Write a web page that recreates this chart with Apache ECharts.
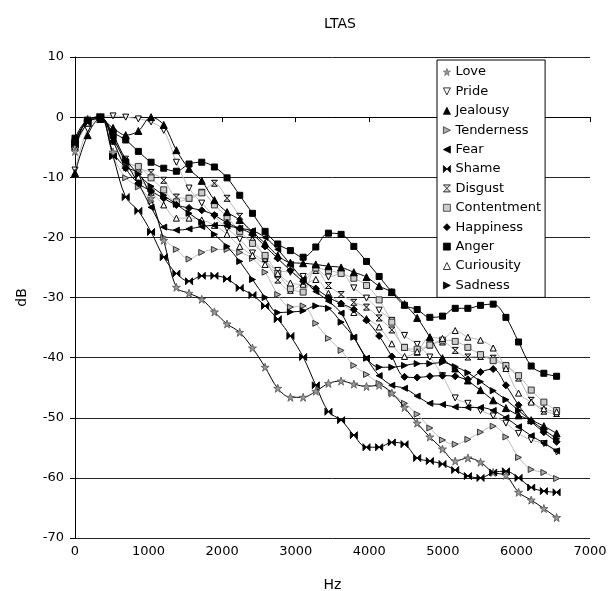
<!DOCTYPE html>
<html><head><meta charset="utf-8">
<script src="https://cdn.jsdelivr.net/npm/echarts@6/dist/echarts.min.js"></script>
<style>html,body{margin:0;padding:0;background:#fff}#c{width:616px;height:591px}</style>
</head><body><div id="c"></div>
<script>
const freqs = [0,172,345,517,689,861,1034,1206,1378,1550,1723,1895,2067,2239,2412,2584,2756,2928,3101,3273,3445,3617,3790,3962,4134,4306,4479,4651,4823,4995,5168,5340,5512,5684,5857,6029,6201,6373,6546];
const names = ['Love','Pride','Jealousy','Tenderness','Fear','Shame','Disgust','Contentment','Happiness','Anger','Curiousity','Sadness'];
const love = [-5.7,-0.3,0,-5.8,-8.3,-9.3,-13.5,-20.5,-28.3,-29.3,-30.3,-32.4,-34.4,-35.8,-38.4,-41.6,-45.1,-46.6,-46.6,-45.6,-44.3,-43.9,-44.4,-44.8,-44.6,-45.9,-48.3,-50.9,-53.2,-55.2,-57.2,-56.7,-57.4,-59.1,-59.6,-62.4,-63.7,-65.1,-66.6];
const pride = [-8.8,-2,0,0.2,0,-0.3,-0.8,-2.2,-7.5,-11.8,-14.3,-16.5,-18.5,-20.3,-22.6,-24,-25.5,-25.8,-26.5,-25.3,-26.6,-26,-28.4,-30.1,-32.1,-33.8,-36.3,-37.8,-39.9,-43,-46.7,-47.6,-48.8,-49.7,-50.9,-52.6,-53.7,-54.3,-55.7];
const jealousy = [-9.3,-3,-0.3,-1.8,-3,-2.3,0,-1.3,-5.5,-8.6,-10.6,-13.8,-15.8,-17.1,-19.1,-21,-23,-24.2,-24.3,-24.5,-24.8,-25,-25.8,-26.6,-28.1,-29.1,-31.1,-33.4,-36.6,-40.1,-41.8,-43.8,-45.4,-47.1,-48.4,-49.6,-50.4,-51.4,-52.6];
const tenderness = [-5,-1,0,-6.5,-10.1,-11.6,-14,-20,-22,-23.6,-22.5,-22,-22,-22.5,-23.5,-25.8,-29.5,-31.6,-31.4,-34.3,-36.8,-38.8,-41.3,-42.8,-44.3,-45.9,-47.6,-49.4,-51.7,-53.7,-54.4,-53.6,-52.4,-51.4,-53.2,-56.6,-58.6,-59.1,-60.1];
const fear = [-4,-0.5,0,-3.5,-7.5,-11,-15,-18.3,-18.8,-18.6,-18.2,-18,-18.1,-18.5,-18.9,-20,-22,-24.5,-27,-29,-30.6,-32.6,-36.6,-40.1,-43,-44.6,-45.1,-46.4,-47.6,-47.8,-48.2,-48.3,-48.3,-48.8,-50,-51.5,-53,-54.2,-55.5];
const shame = [-4.5,-1,0,-6.5,-13.3,-15.6,-19.1,-23.3,-26,-27.3,-26.4,-26.4,-26.9,-28.4,-29.6,-31.4,-33.6,-36.4,-39.9,-44.6,-49,-50.4,-52.9,-54.9,-54.9,-54.1,-54.4,-56.7,-57.2,-57.7,-58.7,-59.7,-60,-59.1,-58.9,-60,-61.6,-62.2,-62.4];
const disgust = [-5,-1,0,-3,-7,-8.5,-9.2,-10.5,-13.3,-13.5,-12.5,-11,-13.5,-16.5,-20,-23.5,-27.1,-28.8,-27.5,-25.5,-28,-29.5,-30.8,-31.6,-33.4,-35.4,-38.3,-39.1,-37.9,-37.4,-38.8,-39.9,-39.8,-40.1,-41.4,-43.4,-47.1,-48.9,-49.3];
const contentment = [-5,-1,0,-3,-7.5,-8.2,-10.1,-12.1,-14.1,-13.5,-12.6,-14.6,-16.6,-19,-21,-23,-26,-28.5,-29.1,-25.1,-25.5,-26,-26.8,-28,-30.4,-34.1,-38.3,-38.6,-37.9,-37.1,-37.3,-38.3,-39.5,-40.5,-41.3,-43,-45.4,-47.4,-48.8];
const happiness = [-4,-0.5,0,-4,-8.5,-11,-12.3,-13.5,-14.6,-15.1,-15.5,-16.3,-17.6,-18.5,-19.5,-21.5,-23.5,-25.5,-27.3,-28.5,-30,-31,-32,-33.8,-36.4,-39.8,-43.2,-43.3,-43.1,-43,-43.1,-43.6,-42.4,-41.9,-44.6,-47.9,-50.6,-52.4,-54];
const anger = [-3.5,-0.5,-0.3,-2.5,-3.8,-5.7,-7.5,-8.5,-9,-7.8,-7.5,-8.3,-10.1,-13,-16,-19,-21.1,-22.2,-23.3,-21.6,-19.3,-19.5,-21.5,-24,-26.5,-29.1,-31.3,-32,-33.3,-33.1,-31.8,-31.8,-31.3,-31.1,-33.3,-37.4,-41.4,-42.6,-43.1];
const curiousity = [-5,-1,0,-4,-8,-10,-12.5,-14.6,-16.8,-16.8,-17.1,-18,-19.5,-21.5,-23,-24.5,-26,-27.6,-27.8,-27,-29.3,-31,-32.5,-33.5,-34.9,-37.7,-39.8,-39,-36.6,-36.8,-35.5,-36.6,-37.1,-38.4,-41.8,-45.9,-47.4,-48.5,-49];
const sadness = [-4,-0.5,0,-3,-7,-9.5,-11.5,-13,-14.5,-16,-17.5,-19.5,-21.5,-24,-27,-30,-32.5,-32.4,-32.2,-31.4,-31.8,-34.1,-36.6,-40.1,-41.6,-41.6,-41.3,-41,-41,-40.8,-41.5,-42.5,-44,-45.5,-47,-48.8,-50.5,-52,-53.5];
const yTicks = [10,0,-10,-20,-30,-40,-50,-60,-70];

const values = [love,pride,jealousy,tenderness,fear,shame,disgust,contentment,happiness,anger,curiousity,sadness];
const S = {
  star:'path://M5,0 L6.2,3.8 L10,3.8 L6.9,6.1 L8.1,10 L5,7.6 L1.9,10 L3.1,6.1 L0,3.8 L3.8,3.8 Z',
  down:'path://M0,0 L10,0 L5,10 Z',
  up:'triangle',
  right:'path://M0,0 L10,5 L0,10 Z',
  left:'path://M10,0 L0,5 L10,10 Z',
  bowtie:'path://M0,0 L5,5 L0,10 Z M10,0 L5,5 L10,10 Z',
  hour:'path://M0,0 L10,0 L5,5 Z M0,10 L10,10 L5,5 Z',
  rect:'rect', diamond:'diamond'
};
const styles = [
  {sym:S.star, fill:'#999', border:'#666', line:'#000', size:8},
  {sym:S.down, fill:'#fff', border:'#000', line:'#bbb', size:6},
  {sym:S.up, fill:'#000', border:'#000', line:'#000', size:7},
  {sym:S.right, fill:'#aaa', border:'#333', line:'#bbb', size:6},
  {sym:S.left, fill:'#000', border:'#000', line:'#000', size:6},
  {sym:S.bowtie, fill:'#000', border:'#000', line:'#000', size:7},
  {sym:S.hour, fill:'#ddd', border:'#000', line:'#bbb', size:6},
  {sym:S.rect, fill:'#ccc', border:'#333', line:'#bbb', size:6},
  {sym:S.diamond, fill:'#000', border:'#000', line:'#000', size:7},
  {sym:S.rect, fill:'#000', border:'#000', line:'#000', size:6},
  {sym:S.up, fill:'#fff', border:'#000', line:'#bbb', size:6},
  {sym:S.right, fill:'#000', border:'#000', line:'#000', size:6}
];
const series = names.map((n,k)=>({
  name:n, type:'line', smooth:0.35,
  data: freqs.map((f,i)=>[f, values[k][i]]),
  symbol: styles[k].sym, symbolSize: styles[k].size,
  showAllSymbol:true,
  lineStyle:{color:styles[k].line, width:1},
  itemStyle:{color:styles[k].fill, borderColor:styles[k].border, borderWidth:1},
  emphasis:{disabled:true},
  z: styles[k].line === '#bbb' ? 2 : 3
}));
const chart = echarts.init(document.getElementById('c'), null, {renderer:'canvas'});
const font = 'DejaVu Sans';
chart.setOption({
  animation:false,
  backgroundColor:'#fff',
  textStyle:{fontFamily:font},
  title:{text:'LTAS', left:335, top:12, textAlign:'center', textStyle:{fontSize:14, fontWeight:'normal', color:'#000', fontFamily:font}},
  grid:{left:75, right:26, top:57, bottom:53, containLabel:false, outerBoundsMode:'none'},
  legend:{
    orient:'vertical', left:437, top:60,
    data: names.map((n,k)=>({name:n, icon:styles[k].sym, itemStyle:{borderWidth:0.8}})),
    itemWidth:7, itemHeight:7, itemGap:5.4,
    textStyle:{fontSize:13, lineHeight:14, color:'#000', fontFamily:font},
    backgroundColor:'#fff', borderColor:'#000', borderWidth:1,
    padding:[5,4,5,6], selectedMode:false
  },
  xAxis:{type:'value', min:0, max:7000, interval:1000,
    name:'Hz', nameLocation:'middle', nameGap:40,
    nameTextStyle:{fontSize:14, color:'#000', fontFamily:font},
    axisLine:{lineStyle:{color:'#000'}}, axisTick:{lineStyle:{color:'#000'}, length:5},
    axisLabel:{fontSize:13, color:'#000', fontFamily:font, margin:7, formatter:v=>String(v)},
    splitLine:{show:false}},
  yAxis:{type:'value', min:yTicks[yTicks.length-1], max:yTicks[0], interval:10,
    name:'dB', nameLocation:'middle', nameGap:46, nameRotate:90,
    nameTextStyle:{fontSize:14, color:'#000', fontFamily:font},
    axisLine:{show:true, lineStyle:{color:'#000'}}, axisTick:{show:true, lineStyle:{color:'#000'}, length:5},
    axisLabel:{fontSize:13, color:'#000', fontFamily:font, margin:11},
    splitLine:{lineStyle:{color:'#222', width:1}}},
  series: series
});
</script></body></html>
